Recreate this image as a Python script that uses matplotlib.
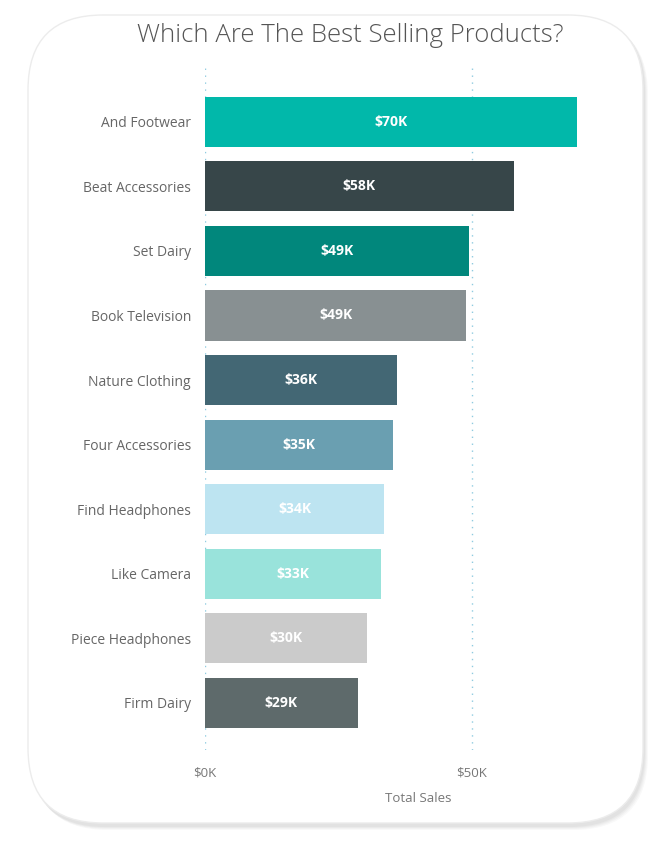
import matplotlib.pyplot as plt
from matplotlib.patches import FancyBboxPatch

# dati
prodotti = ["And Footwear", "Beat Accessories", "Set Dairy", "Book Television",
            "Nature Clothing", "Four Accessories", "Find Headphones", "Like Camera",
            "Piece Headphones", "Firm Dairy"]
vendite = [69.7, 57.8, 49.4, 48.9, 36.0, 35.2, 33.5, 33.0, 30.3, 28.6]
etichette = ["$70K", "$58K", "$49K", "$49K", "$36K", "$35K", "$34K", "$33K", "$30K", "$29K"]
colori = ["#01B8AA", "#374649", "#01877C", "#889092", "#436774",
          "#6A9FB1", "#BDE4F1", "#99E3DB", "#CBCBCB", "#5E6A6B"]
tick_valori = [0, 50]
tick_etichette = ["$0K", "$50K"]

plt.rcParams["font.family"] = ["Open Sans", "DejaVu Sans"]

W, H = 666, 844
fig = plt.figure(figsize=(W / 100, H / 100), dpi=100)
fig.patch.set_facecolor("white")

# sfondo: la card con angoli arrotondati e ombra
bg = fig.add_axes([0, 0, 1, 1])
bg.set_xlim(0, W)
bg.set_ylim(H, 0)
bg.axis("off")
for i, a in enumerate([0.05, 0.06, 0.07, 0.08]):
    off = 5 - i
    bg.add_patch(FancyBboxPatch((28 + off, 15 + off), 615, 810,
                                boxstyle="round,pad=0,rounding_size=75",
                                fc="#8a8a8a", ec="none", alpha=a))
bg.add_patch(FancyBboxPatch((28, 15), 615, 808,
                            boxstyle="round,pad=0,rounding_size=75",
                            fc="white", ec="#ececec", lw=1))

# area del grafico
x0, x1 = 205, 600
top, bottom = 65, 750
ax = fig.add_axes([x0 / W, 1 - bottom / H, (x1 - x0) / W, (bottom - top) / H])
ax.patch.set_alpha(0)
pos = list(range(len(prodotti)))
ax.barh(pos, vendite, height=0.775, color=colori, zorder=2)
ax.set_xlim(0, (x1 - x0) / 5.34)
ax.set_ylim(9.73, -0.88)

for p, v, t in zip(pos, vendite, etichette):
    ax.text(v / 2, p, t, ha="center", va="center", color="white",
            fontsize=10, fontweight="bold", zorder=3)

for t in tick_valori:
    ax.axvline(t, color="#8fcbe0", lw=1, ls=(0, (1, 4)), zorder=1)

ax.set_yticks(pos)
ax.set_yticklabels(prodotti, fontsize=10, color="#666666")
ax.set_xticks(tick_valori)
ax.set_xticklabels(tick_etichette, fontsize=9.5, color="#777777")
ax.tick_params(axis="y", length=0, pad=10)
ax.tick_params(axis="x", length=0, pad=12)
for s in ax.spines.values():
    s.set_visible(False)

fig.text(418 / W, 1 - 799 / H, "Total Sales", ha="center", va="center",
         fontsize=9.5, color="#777777")
fig.text(350 / W, 1 - 36 / H, "Which Are The Best Selling Products?",
         ha="center", va="center", fontsize=18.5, color="#555555", fontweight="light")

fig.savefig("out.png", dpi=100)
